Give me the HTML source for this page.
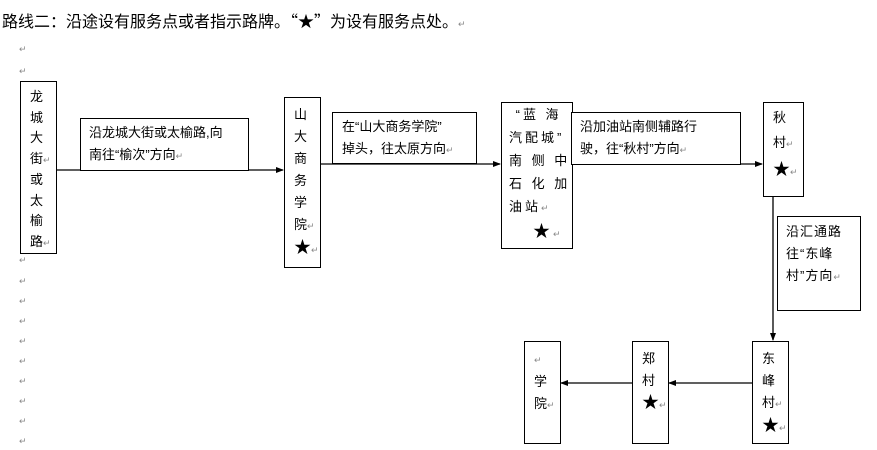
<!DOCTYPE html>
<html><head><meta charset="utf-8"><style>
body{margin:0;width:877px;height:450px;background:#fff;position:relative;overflow:hidden;font-family:"Liberation Sans","Noto Sans CJK SC",sans-serif;color:#000}
.a{position:absolute}
.b{position:absolute;border:1px solid #000;box-sizing:border-box;background:#fff;font-size:13px;line-height:22px}
.r{color:#888;font-size:9px}
.m{position:absolute;left:19px;color:#888;font-size:9px}
.s{font-size:17px}
</style></head><body>
<div class="a" style="left:2px;top:9px;font-size:16px;line-height:22px">路线二：沿途设有服务点或者指示路牌。<span style="font-family:'Noto Sans CJK SC'">“★”</span>为设有服务点处。<span class="r">↵</span></div>
<div class="m" style="top:44px">↵</div><div class="m" style="top:66px">↵</div>
<div class="m" style="top:255px">↵</div><div class="m" style="top:276px">↵</div><div class="m" style="top:296px">↵</div><div class="m" style="top:316px">↵</div><div class="m" style="top:336px">↵</div><div class="m" style="top:356px">↵</div><div class="m" style="top:376px">↵</div><div class="m" style="top:396px">↵</div><div class="m" style="top:416px">↵</div><div class="m" style="top:436px">↵</div>
<svg class="a" style="left:0;top:0" width="877" height="450">
<defs><marker id="ar" markerWidth="8" markerHeight="8" refX="7" refY="4" orient="auto" markerUnits="userSpaceOnUse"><path d="M0,1 L8,4 L0,7z" fill="#000"/></marker></defs>
<g stroke="#000" stroke-width="1.3" fill="none">
<line x1="56" y1="170" x2="283" y2="170" marker-end="url(#ar)"/>
<line x1="320" y1="164" x2="500" y2="164" marker-end="url(#ar)"/>
<line x1="572" y1="164" x2="762" y2="164" marker-end="url(#ar)"/>
<line x1="773" y1="196" x2="773" y2="340" marker-end="url(#ar)"/>
<line x1="752" y1="383" x2="669" y2="383" marker-end="url(#ar)"/>
<line x1="632" y1="383" x2="561" y2="383" marker-end="url(#ar)"/>
</g></svg>
<div class="b" style="left:20px;top:81px;width:37px;height:173px;padding:5px 0 0 9px;line-height:20.5px">龙<br>城<br>大<br>街<span class="r">↵</span><br>或<br>太<br>榆<br>路<span class="r">↵</span></div>
<div class="b" style="left:80px;top:118px;width:169px;height:53px;padding:3px 0 0 8px">沿龙城大街或太榆路,向<br>南往“榆次”方向<span class="r">↵</span></div>
<div class="b" style="left:284px;top:97px;width:37px;height:171px;padding:6px 0 0 9px">山<br>大<br>商<br>务<br>学<br>院<span class="r">↵</span><br><span class="s">★</span><span class="r">↵</span></div>
<div class="b" style="left:332px;top:112px;width:145px;height:52px;padding:3px 0 0 9px">在“山大商务学院”<br>掉头，往太原方向<span class="r">↵</span></div>
<div class="b" style="left:501px;top:102px;width:72px;height:147px;padding:0 0 0 7px;line-height:23px;letter-spacing:3px">&nbsp;“蓝 海<br>汽配城”<br>南 侧 中<br>石 化 加<br>油站<span class="r">↵</span><br><span style="padding-left:24px" class="s">★</span><span class="r">↵</span></div>
<div class="b" style="left:571px;top:112px;width:170px;height:53px;padding:3px 0 0 8px">沿加油站南侧辅路行<br>驶，往“秋村”方向<span class="r">↵</span></div>
<div class="b" style="left:763px;top:102px;width:41px;height:95px;padding:2px 0 0 9px;line-height:25px">秋<br>村<span class="r">↵</span><br><span class="s">★</span><span class="r">↵</span></div>
<div class="b" style="left:777px;top:216px;width:84px;height:95px;padding:4px 0 0 8px;letter-spacing:1px">沿汇通路<br>往“东峰<br>村”方向<span class="r">↵</span></div>
<div class="b" style="left:752px;top:341px;width:37px;height:103px;padding:6px 0 0 9px">东<br>峰<br>村<span class="r">↵</span><br><span class="s">★</span><span class="r">↵</span></div>
<div class="b" style="left:632px;top:341px;width:37px;height:103px;padding:6px 0 0 9px">郑<br>村<br><span class="s">★</span><span class="r">↵</span></div>
<div class="b" style="left:524px;top:341px;width:37px;height:103px;padding:6px 0 0 9px"><span class="r">↵</span><br>学<br>院<span class="r">↵</span></div>
</body></html>
